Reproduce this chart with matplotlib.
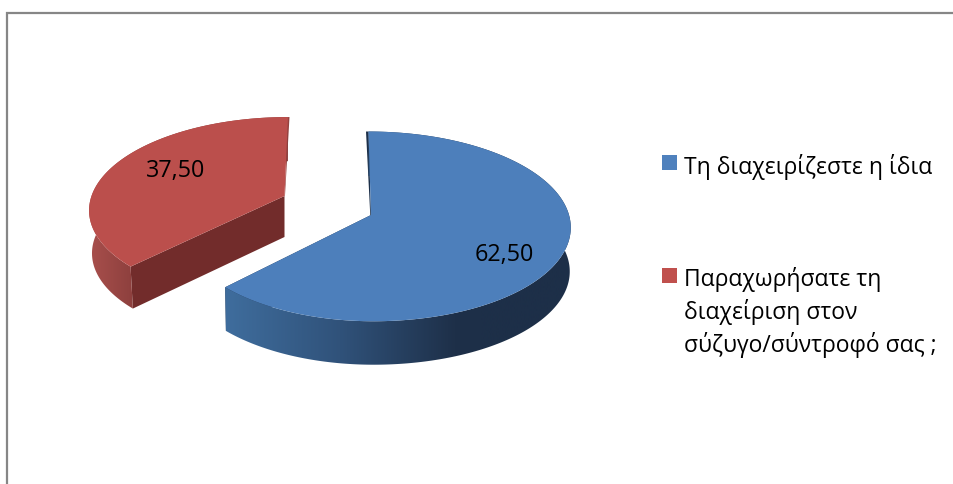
import numpy as np
import matplotlib
matplotlib.use('Agg')
import matplotlib.pyplot as plt
from matplotlib.patches import Polygon

categories = ['Τη διαχειρίζεστε η ίδια', 'Παραχωρήσατε τη\nδιαχείριση στον\nσύζυγο/σύντροφό σας ;']
values = [62.50, 37.50]

font = 'Open Sans'
blue_top = '#4d7fbb'
red_top = '#bb4f4c'
blue_side = [(0, '#3f6d9d'), (0.45, '#30527a'), (0.9, '#1e3049'), (1, '#1d2f48')]
red_side = [(0, '#a84f4c'), (1, '#8c3f3d')]
red_inner = '#722c2b'
blue_inner = '#1d3049'

W, H = 954, 485
fig = plt.figure(figsize=(W / 100, H / 100), dpi=100)
ax = fig.add_axes([0, 0, 1, 1])
ax.axis('off')

# chart border, only top and left are visible
ax.plot([7.5, 7.5, W], [H, 13.5, 13.5], color='#868686', lw=1.6, solid_joinstyle='miter')


def project(theta, g):
    # flat disc seen in perspective, far side is smaller
    x, y = np.cos(theta), np.sin(theta)
    w = 1 + g['k'] * y
    rx = np.where(x < 0, g['rxl'], g['rx'])
    return g['ax'] + rx * x / w + g['skew'] * y, g['ay'] - g['ry'] * y / w


def draw_slice(start, sweep, g, top, side_stops, inner, edge):
    th = np.radians(np.linspace(start, start + sweep, 240))
    ex, ey = project(th, g)
    bx = g['ax'] + (ex - g['ax']) * g['shrink']
    by = g['ay'] + (ey - g['ay']) * g['shrink'] + g['depth']
    apex_low = g['ay'] + g['apex_depth']

    # flat cut face and the thin edge along the other cut
    ax.fill([g['ax'], ex[-1], bx[-1], g['ax']], [g['ay'], ey[-1], by[-1], apex_low],
            color=inner, lw=0, zorder=2)
    sl = g['sliver']
    ax.fill([ex[0], ex[0] + sl, g['ax'] + sl * 0.3, g['ax']], [ey[0], ey[0], g['ay'], g['ay']],
            color=edge, lw=0, zorder=2)

    # outer wall, colour follows x and stays flat outside x0..x1
    left, right = min(ex.min(), bx.min()) - 2, max(ex.max(), bx.max()) + 2
    xs = np.linspace(left, right, 512)
    ts = (xs - g['x0']) / (g['x1'] - g['x0'])
    rgb = np.array([matplotlib.colors.to_rgb(s[1]) for s in side_stops])
    pos = [s[0] for s in side_stops]
    grad = np.stack([np.interp(ts, pos, rgb[:, i]) for i in range(3)], axis=1)[None, :, :]
    im = ax.imshow(grad, extent=(left, right, H, 0), aspect='auto', zorder=3,
                   interpolation='bilinear')
    wall = Polygon(np.c_[np.r_[ex, bx[::-1]], np.r_[ey, by[::-1]]], closed=True,
                   transform=ax.transData, fc='none', ec='none')
    ax.add_patch(wall)
    im.set_clip_path(wall)

    ax.fill(np.r_[g['ax'], ex], np.r_[g['ay'], ey], color=top, lw=0, zorder=4)


# slices run clockwise from 12 o'clock, first one is values[0]
sweep0 = 360 * values[0] / sum(values)
sweep1 = 360 * values[1] / sum(values)

blue = dict(ax=371, ay=216, rx=198, rxl=191, ry=93.5, k=0.12, skew=-2.5, depth=44, apex_depth=42,
            shrink=0.995, sliver=-2.5, x0=226, x1=480)
red = dict(ax=284.5, ay=197, rx=193, rxl=193, ry=90, k=0.14, skew=3.5, depth=43, apex_depth=41,
           shrink=0.985, sliver=1.5, x0=90, x1=135)

draw_slice(90, -sweep0, blue, blue_top, blue_side, blue_inner, blue_inner)
draw_slice(90, sweep1, red, red_top, red_side, red_inner, '#96423f')

ax.set_xlim(0, W)
ax.set_ylim(H, 0)

label_pos = [(504.5, 255.5), (176, 171.5)]
for v, (x, y) in zip(values, label_pos):
    ax.text(x, y, f'{v:.2f}'.replace('.', ','), family=font, fontsize=16.8, color='black',
            ha='center', va='center', zorder=6)

# legend
legend_colors = ['#4f81bd', '#c0504d']
legend_y = [156, 269]
for name, c, y in zip(categories, legend_colors, legend_y):
    ax.add_patch(plt.Rectangle((662, y), 15, 15, color=c, lw=0, zorder=5))
    ax.text(684, y - 2, name, family=font, fontsize=16.5, color='black', ha='left', va='top',
            linespacing=1.35, zorder=6)

fig.savefig('out.png', dpi=100)
